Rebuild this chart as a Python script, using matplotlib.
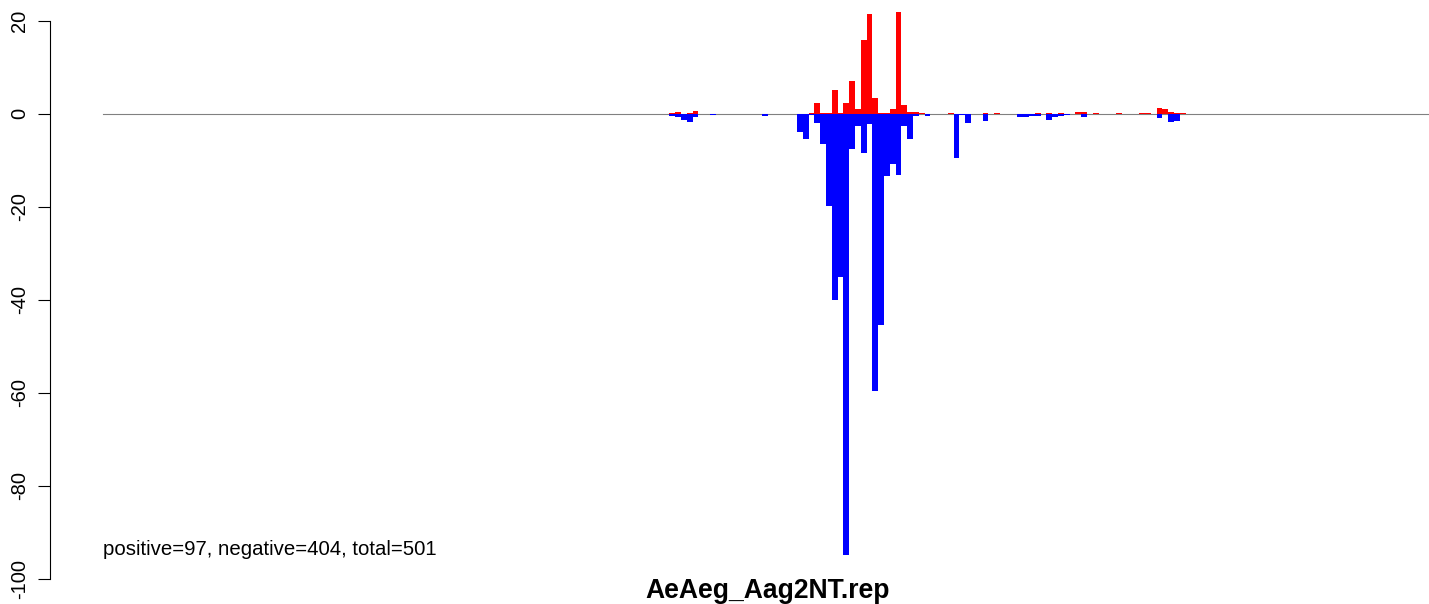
import numpy as np
import matplotlib
matplotlib.use('Agg')
import matplotlib.pyplot as plt

plt.rcParams['font.family'] = ['Liberation Sans', 'DejaVu Sans']
plt.rcParams['axes.unicode_minus'] = False

# bin index (relative), positive (red) and negative (blue) values
bins = [-22, -21, -20, -19, -18, -15, -12, -11, -10, -9, -6, -5, -4, -3, -2, -1,
        0, 1, 2, 3, 4, 5, 6, 7, 8, 9, 10, 11, 12, 13, 14, 15, 16, 17, 18, 19,
        20, 21, 22, 24, 26, 27, 28, 29, 32, 34, 38, 39, 40, 41, 43, 44, 45, 46,
        48, 49, 51, 53, 55, 59, 60, 62, 63, 64, 65, 66]
pos_vals = [0.1, 0.4, 0.0, 0.1, 0.6, 0.0, 0.0, 0.0, 0.0, 0.0, 0.0, 0.0, 0.0, 0.0, 0.0, 0.0,
            0.0, 0.0, 0.2, 2.4, 0.2, 0.2, 5.2, 0.2, 2.4, 7.1, 1.1, 15.9, 21.5, 3.4, 0.2, 0.1,
            1.1, 21.9, 1.9, 0.4, 0.4, 0.2, 0.0, 0.0, 0.2, 0.0, 0.0, 0.0, 0.2, 0.1, 0.0, 0.0,
            0.0, 0.2, 0.2, 0.0, 0.1, 0.0, 0.4, 0.4, 0.1, 0.0, 0.1, 0.2, 0.1, 1.3, 1.1, 0.4,
            0.1, 0.1]
neg_vals = [-0.4, -0.6, -1.3, -1.7, -0.6, -0.3, -0.1, -0.1, -0.1, -0.1, -0.4, -0.1, -0.1, -0.1, -0.1, -0.1,
            -3.9, -5.3, -0.2, -1.9, -6.4, -19.8, -40.0, -35.0, -94.8, -7.5, -2.5, -8.3, -2.2, -59.6, -45.4, -13.3,
            -10.7, -13.1, -2.5, -5.3, -0.4, 0.0, -0.4, -0.1, 0.0, -9.5, -0.2, -1.9, -1.5, 0.0, -0.6, -0.6,
            -0.4, -0.4, -1.3, -0.6, -0.4, -0.2, 0.0, -0.6, 0.0, -0.1, 0.0, 0.0, 0.0, -0.9, 0.0, -1.7,
            -1.5, 0.0]
yticks = [20, 0, -20, -40, -60, -80, -100]
label = "positive=97, negative=404, total=501"
title = "AeAeg_Aag2NT.rep"

fig = plt.figure(figsize=(14.29, 6.04), dpi=100)
ax = fig.add_axes([50 / 1429, 0, 1 - 50 / 1429, 1])

ax.axhline(0, xmin=(103 - 50) / 1379, xmax=1, color='#808080', lw=0.8, zorder=1)
ax.bar(bins, pos_vals, width=1.0, color='#FF0000', linewidth=0, zorder=2)
ax.bar(bins, neg_vals, width=1.0, color='#0000FF', linewidth=0, zorder=2)

ax.set_xlim(-129.29, 108.47)
ax.set_ylim(-105.4, 24.5)

for s in ['top', 'right', 'bottom']:
    ax.spines[s].set_visible(False)
ax.spines['left'].set_bounds(-100, 20)
ax.spines['left'].set_linewidth(0.8)
ax.set_xticks([])
ax.set_yticks(yticks)
ax.set_yticklabels([str(t) for t in yticks], rotation=90, va='center')
ax.tick_params(axis='y', length=8.6, width=0.8, pad=6.5, labelsize=14.5)
ax.patch.set_visible(False)

ax.text(-120.16, -94.8, label, fontsize=14.7, ha='left', va='baseline')
fig.text(768 / 1429, 1 - 598 / 604, title, fontsize=19.1, fontweight='bold',
         ha='center', va='baseline')

fig.savefig('out.png', dpi=100)
